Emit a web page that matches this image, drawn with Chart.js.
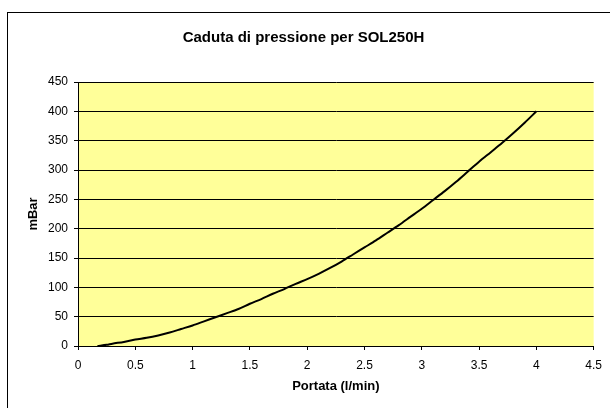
<!DOCTYPE html>
<html><head><meta charset="utf-8">
<script src="https://cdn.jsdelivr.net/npm/chart.js@4/dist/chart.umd.min.js"></script>
<style>html,body{margin:0;padding:0;background:#fff;}#wrap{width:610px;height:408px;position:relative;}</style>
</head><body><div id="wrap"><canvas id="c" width="610" height="408"></canvas></div>
<script>
const chartTitle = "Caduta di pressione per SOL250H";
const xTitle = "Portata (l/min)";
const yTitle = "mBar";
const flowValues = [0.17,0.25,0.3,0.4,0.5,0.6,0.7,0.8,0.9,1.0,1.1,1.2,1.3,1.4,1.5,1.6,1.7,1.8,1.9,2.0,2.1,2.2,2.3,2.4,2.5,2.6,2.7,2.8,2.9,3.0,3.1,3.2,3.3,3.4,3.5,3.6,3.7,3.8,3.9,4.0];
const pressureValues = [0,2,4,7,11,14,18,23,29,35,42,49,56,63,72,80,89,97,106,114,123,133,144,156,168,180,193,206,220,234,249,264,280,297,314,330,346,363,381,400];
const xMin = 0, xMax = 4.5, xStep = 0.5;
const yMin = 0, yMax = 450, yStep = 50;

const points = flowValues.map((x,i)=>({x:x,y:pressureValues[i]}));
const FONT = 'Liberation Sans, Arial, sans-serif';

const bgPlugin = {
  id:'bg',
  beforeDraw(chart){
    const ctx = chart.ctx, a = chart.chartArea;
    ctx.save();
    ctx.fillStyle = '#fff';
    ctx.fillRect(0,0,chart.width,chart.height);
    ctx.strokeStyle = '#000';
    ctx.lineWidth = 1;
    ctx.strokeRect(7.5,12.5,620,420);
    ctx.fillStyle = '#FFFF99';
    ctx.fillRect(a.left,a.top,a.right-a.left,a.bottom-a.top);
    ctx.restore();
  }
};

new Chart(document.getElementById('c'), {
  type:'scatter',
  data:{datasets:[{data:points, showLine:true, borderColor:'#000', borderWidth:2, pointRadius:0, tension:0.3, fill:false}]},
  options:{
    responsive:false, animation:false,
    layout:{padding:{left:8, right:11, top:0, bottom:12}},
    plugins:{
      legend:{display:false}, tooltip:{enabled:false},
      title:{display:true, text:chartTitle, color:'#000', font:{family:FONT, size:15, weight:'bold'}, padding:{top:29, bottom:35}}
    },
    scales:{
      x:{type:'linear', min:xMin, max:xMax,
        ticks:{stepSize:xStep, color:'#000', font:{family:FONT, size:12}, padding:8, maxRotation:0,
          callback:(v)=>String(Math.round(v*10)/10)},
        grid:{drawOnChartArea:false, drawTicks:true, tickLength:4, color:'#000'},
        border:{color:'#000', width:1},
        title:{display:true, text:xTitle, color:'#000', font:{family:FONT, size:13, weight:'bold'}, padding:{top:4,bottom:2}},
        afterFit(s){ s.height = 50; }
      },
      y:{type:'linear', min:yMin, max:yMax,
        ticks:{stepSize:yStep, color:'#000', font:{family:FONT, size:12}, padding:6},
        grid:{color:'#000', drawTicks:true, tickLength:4, lineWidth:1},
        border:{color:'#000', width:1},
        title:{display:true, text:yTitle, color:'#000', font:{family:FONT, size:13, weight:'bold'}, padding:{top:18,bottom:0}},
        afterFit(s){ s.width = 70; }
      }
    }
  },
  plugins:[bgPlugin]
});
</script></body></html>
